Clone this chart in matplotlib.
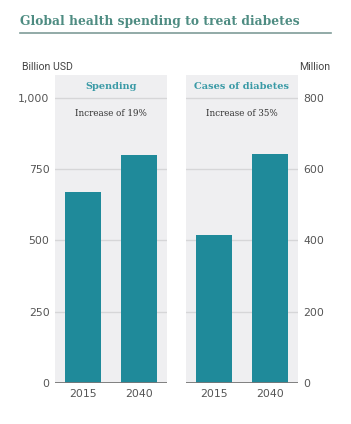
import matplotlib.pyplot as plt

years = ['2015', '2040']
spending = [670, 800]        # billion USD
cases = [415, 642]           # million
left_ticks = [0, 250, 500, 750, 1000]
left_labels = ['0', '250', '500', '750', '1,000']
right_ticks = [0, 200, 400, 600, 800]

W, H = 351, 424
bar_col = '#1f8a9a'
panel_col = '#efeff1'
grid_col = '#d6d6d8'
txt_col = '#555555'

fig = plt.figure(figsize=(W / 100, H / 100), dpi=100)
fig.patch.set_facecolor('white')


def px_axes(x0, x1, ytop, ybot):
    return fig.add_axes([x0 / W, (H - ybot) / H, (x1 - x0) / W, (ybot - ytop) / H])


#Title and underline
fig.text(20 / W, 1 - 21 / H, 'Global health spending to treat diabetes',
         fontsize=8.8, fontweight='bold', family='DejaVu Serif',
         color='#4e8c82', va='center', ha='left')
fig.add_artist(plt.Line2D([20 / W, 331 / W], [1 - 33 / H, 1 - 33 / H],
                          color='#7f9c98', lw=1.2))
fig.text(22 / W, 1 - 67 / H, 'Billion USD', fontsize=7.6, family='Roboto',
         color='#444444', va='center')
fig.text(330 / W, 1 - 67 / H, 'Million', fontsize=7.6, family='Roboto',
         color='#444444', va='center', ha='right')


def panel(ax, vals, ticks, labels, ymax, title, note, side):
    ax.set_facecolor(panel_col)
    ax.bar([0, 1], vals, width=0.65, color=bar_col, zorder=3)
    ax.set_xlim(-0.5, 1.5)
    ax.set_ylim(0, ymax)
    ax.set_yticks(ticks)
    ax.set_yticklabels(labels)
    ax.set_xticks([0, 1])
    ax.set_xticklabels(years)
    ax.grid(axis='y', color=grid_col, lw=1, zorder=1)
    for s in ax.spines.values():
        s.set_visible(False)
    ax.axhline(0, color='#777777', lw=1.3, zorder=4)
    ax.tick_params(length=0, labelsize=7.8, labelcolor=txt_col)
    ax.tick_params(axis='x', pad=4)
    if side == 'right':
        ax.yaxis.tick_right()
    ax.tick_params(axis='y', pad=4)
    ax.text(0.5, 0.963, title, transform=ax.transAxes, ha='center', va='center',
            fontsize=7, fontweight='bold', family='DejaVu Serif', color='#3a9aa6')
    ax.text(0.5, 0.875, note, transform=ax.transAxes, ha='center', va='center',
            fontsize=6.3, family='DejaVu Serif', color='#333333')


ax1 = px_axes(55, 167, 75, 383)
panel(ax1, spending, left_ticks, left_labels, 1080, 'Spending',
      'Increase of 19%', 'left')

ax2 = px_axes(186, 298, 75, 383)
panel(ax2, cases, right_ticks, [str(t) for t in right_ticks], 864,
      'Cases of diabetes', 'Increase of 35%', 'right')

fig.savefig('out.png', dpi=100, facecolor='white')
